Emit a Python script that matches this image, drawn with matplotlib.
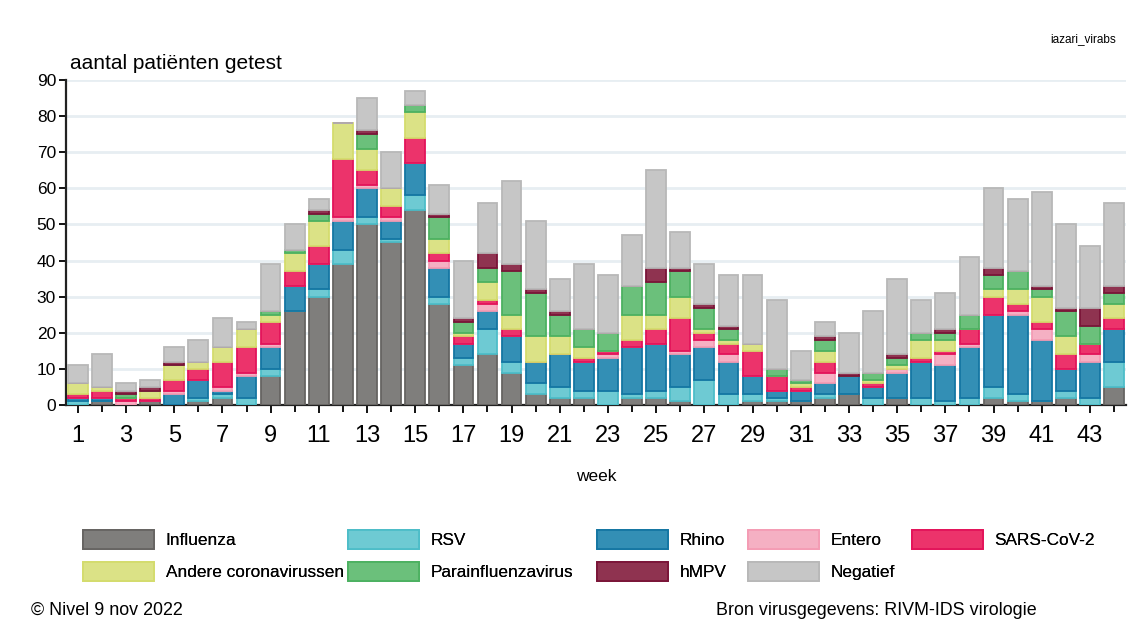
import numpy as np
import matplotlib.pyplot as plt
from matplotlib.patches import Patch

plt.rcParams['font.family'] = ['Liberation Sans', 'DejaVu Sans']

# Data: weeks 1..44, counts per category
weeks = np.arange(1, 45)

influenza = [0, 1, 0, 1, 0, 1, 2, 0, 8, 26, 30, 39, 50, 45, 54, 28, 11, 14, 9, 3, 2, 2,
             0, 2, 2, 1, 0, 0, 1, 1, 1, 2, 3, 0, 2, 0, 0, 0, 2, 1, 1, 2, 0, 5]
rsv = [1, 0, 0, 0, 0, 1, 1, 2, 2, 0, 2, 4, 2, 1, 4, 2, 2, 7, 3, 3, 3, 2,
       4, 1, 2, 4, 7, 3, 2, 1, 0, 1, 0, 2, 0, 2, 1, 2, 3, 2, 0, 2, 2, 7]
rhino = [1, 1, 0, 0, 3, 5, 1, 6, 6, 7, 7, 8, 8, 5, 9, 8, 4, 5, 7, 6, 9, 8,
         9, 13, 13, 9, 9, 9, 5, 2, 3, 3, 5, 3, 7, 10, 10, 14, 20, 22, 17, 6, 10, 9]
entero = [0, 0, 1, 0, 1, 0, 1, 1, 1, 0, 0, 1, 1, 1, 0, 2, 0, 2, 0, 0, 0, 0,
          1, 0, 0, 1, 2, 2, 0, 0, 0, 3, 0, 0, 1, 0, 3, 1, 0, 1, 3, 0, 2, 0]
sars = [1, 2, 1, 1, 3, 3, 7, 7, 6, 4, 5, 16, 4, 3, 7, 2, 2, 1, 2, 0, 0, 1,
        1, 2, 4, 9, 2, 3, 7, 4, 1, 3, 0, 1, 0, 1, 1, 4, 5, 2, 2, 4, 3, 3]
andere = [3, 1, 0, 2, 4, 2, 4, 5, 2, 5, 7, 10, 6, 5, 7, 4, 1, 5, 4, 7, 5, 3,
          0, 7, 4, 6, 1, 1, 2, 0, 1, 3, 0, 1, 1, 5, 3, 0, 2, 4, 7, 5, 0, 4]
para = [0, 0, 1, 0, 0, 0, 0, 0, 1, 1, 2, 0, 4, 0, 2, 6, 3, 4, 12, 12, 6, 5,
        5, 8, 9, 7, 6, 3, 0, 2, 1, 3, 0, 2, 2, 2, 2, 4, 4, 5, 2, 7, 5, 3]
hmpv = [0, 0, 1, 1, 1, 0, 0, 0, 0, 0, 1, 0, 1, 0, 0, 1, 1, 4, 2, 1, 1, 0,
        0, 0, 4, 1, 1, 1, 0, 0, 0, 1, 1, 0, 1, 0, 1, 0, 2, 0, 1, 1, 5, 2]
negatief = [5, 9, 2, 2, 4, 6, 8, 2, 13, 7, 3, 0, 9, 10, 4, 8, 16, 14, 23, 19, 9, 18,
            16, 14, 27, 10, 11, 14, 19, 19, 8, 4, 11, 17, 21, 9, 10, 16, 22, 20, 26, 23, 17, 23]

labels = ['Influenza', 'RSV', 'Rhino', 'Entero', 'SARS-CoV-2',
          'Andere coronavirussen', 'Parainfluenzavirus', 'hMPV', 'Negatief']
series = [influenza, rsv, rhino, entero, sars, andere, para, hmpv, negatief]
faces = ['#7f7e7c', '#6ecad3', '#338fb5', '#f5b0c3', '#ec336b',
         '#dbe286', '#6bc07b', '#8f3350', '#c6c6c6']
edges = ['#666462', '#4dbdc8', '#1476a3', '#f49cb4', '#e3135a',
         '#d4dc6d', '#4cb161', '#7a1438', '#b8b8b8']

fig = plt.figure(figsize=(11.34, 6.44), dpi=100)
ax = fig.add_axes([0.058, 0.371, 0.935, 0.505])

bottom = np.zeros(len(weeks))
for vals, lab, fc, ec in zip(series, labels, faces, edges):
    vals = np.array(vals, dtype=float)
    ax.bar(weeks, vals, bottom=bottom, width=0.82, color=fc, edgecolor=ec,
           linewidth=1.3, label=lab, zorder=3)
    bottom += vals

ax.set_xlim(0.5, 44.5)
ax.set_ylim(0, 90)
ax.set_yticks(np.arange(0, 91, 10))
ax.set_xticks(np.arange(1, 45, 2))
ax.set_xticks(np.arange(2, 45, 2), minor=True)
ax.tick_params(axis='x', which='major', labelsize=17, length=6, width=1.3, pad=8)
ax.tick_params(axis='x', which='minor', length=5, width=1.3)
ax.tick_params(axis='y', labelsize=12.5, length=5, width=1.3, pad=2)
ax.yaxis.grid(True, color='#e7eef2', linewidth=2, zorder=0)
ax.set_axisbelow(True)
for s in ['top', 'right']:
    ax.spines[s].set_visible(False)
for s in ['left', 'bottom']:
    ax.spines[s].set_linewidth(1.6)
    ax.spines[s].set_color('#222222')

ax.set_xlabel('week', fontsize=12.5, labelpad=16)
fig.text(0.062, 0.887, 'aantal patiënten getest', fontsize=15, ha='left', va='bottom')
fig.text(0.984, 0.93, 'iazari_virabs', fontsize=8.5, ha='right', va='bottom')

# legend: five columns of two entries each, placed one by one
handles = [Patch(facecolor=fc, edgecolor=ec, linewidth=1.3) for fc, ec in zip(faces, edges)]
columns = [[0, 5], [1, 6], [2, 7], [3, 8], [4]]
col_x = [83, 348, 597, 748, 912]
for idx, px in zip(columns, col_x):
    lg = fig.legend([handles[i] for i in idx], [labels[i] for i in idx],
                    loc='upper left', bbox_to_anchor=(px / 1134, 1 - 530 / 644),
                    frameon=False, fontsize=12.4, handlelength=4.1, handleheight=1.34,
                    handletextpad=0.7, labelspacing=0.72, borderpad=0, borderaxespad=0)
    fig.add_artist(lg)

fig.text(0.027, 0.052, '© Nivel 9 nov 2022', fontsize=12.9, ha='left', va='center')
fig.text(0.631, 0.052, 'Bron virusgegevens: RIVM-IDS virologie', fontsize=12.9,
         ha='left', va='center')

fig.savefig('out.png', dpi=100)
